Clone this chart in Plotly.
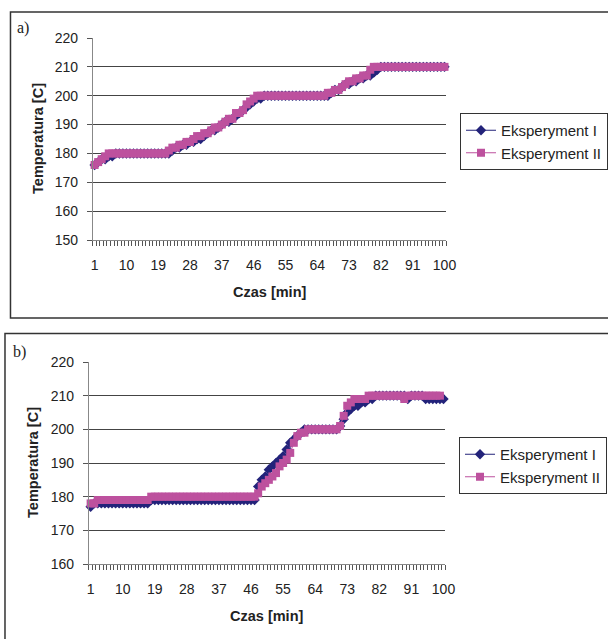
import plotly.graph_objects as go

W, H = 608, 639

minutes = list(range(1, 101))
x_tick_labels = [1, 10, 19, 28, 37, 46, 55, 64, 73, 82, 91, 100]

# Panel a)
a_exp1 = ([176, 177, 178, 178, 179, 179, 180, 180, 180, 180]
          + [180] * 12
          + [181, 182, 182, 183, 183, 184, 184, 185,
             185, 186, 187, 188, 188, 189, 190, 191, 191, 192,
             193, 194, 195, 196, 197, 198, 199, 199, 200, 200]
          + [200] * 17
          + [201, 202, 202, 203, 204, 204, 205, 205, 206, 206, 207, 207, 208, 209, 210]
          + [210] * 18)
a_exp2 = ([176, 177, 178, 179, 180]
          + [180] * 16
          + [181, 182, 182, 183, 183, 184, 184, 185, 186,
             186, 187, 187, 188, 189, 189, 190, 191, 192, 192,
             194, 194, 195, 197, 198, 199, 200]
          + [200] * 19
          + [201, 201, 202, 202, 203, 204, 205, 205, 206, 206, 207, 207, 209, 210]
          + [210] * 20)

# Panel b)
b_exp1 = ([177] + [178] * 16 + [179] * 30
          + [183, 185, 186, 188, 189, 190, 191, 192, 194, 196, 197, 198, 199]
          + [200] * 10
          + [201, 203, 205, 206, 207, 207, 208, 208, 209, 209]
          + [210] * 9 + [209] + [210] * 4 + [209] * 6)
b_exp2 = ([178, 178] + [179] * 15 + [180] * 30
          + [181, 183, 184, 185, 186, 187, 189, 190, 191, 193, 196, 198, 199, 199]
          + [200] * 9
          + [201, 204, 207, 208, 209, 209, 209, 209]
          + [210] * 10 + [209] + [210] * 10)

series_names = ["Eksperyment I", "Eksperyment II"]
BLUE = "#23237a"
PINK = "#bd519e"
FONT = "Liberation Sans, Arial, sans-serif"

fig = go.Figure()

def add_panel(y1, y2, xa, ya, legend):
    fig.add_trace(go.Scatter(
        x=minutes, y=y1, name=series_names[0], mode="lines+markers",
        line=dict(color=BLUE, width=1),
        marker=dict(symbol="diamond", size=8, color=BLUE),
        xaxis=xa, yaxis=ya, legend=legend, cliponaxis=False))
    fig.add_trace(go.Scatter(
        x=minutes, y=y2, name=series_names[1], mode="lines+markers",
        line=dict(color=PINK, width=1),
        marker=dict(symbol="square", size=8, color=PINK),
        xaxis=xa, yaxis=ya, legend=legend, cliponaxis=False))

add_panel(a_exp1, a_exp2, "x", "y", "legend")
add_panel(b_exp1, b_exp2, "x2", "y2", "legend2")

def px_x(p):
    return p / W

def px_y(p):
    return 1 - p / H

xcommon = dict(
    range=[0.5, 100.5], tickmode="array", tickvals=x_tick_labels,
    ticktext=[str(v) for v in x_tick_labels], ticks="",
    showgrid=False, zeroline=False, showline=True, linecolor="#888888", linewidth=1,
    tickfont=dict(family=FONT, size=14, color="#222222"),
    ticklabelstandoff=12, automargin=False,
    minor=dict(tickmode="linear", tick0=0.5, dtick=1, ticks="outside",
               ticklen=5, tickcolor="#555555", tickwidth=1, showgrid=False),
)
ycommon = dict(
    dtick=10, showgrid=True, gridcolor="#444444", gridwidth=1,
    zeroline=False, showline=True, linecolor="#888888", linewidth=1,
    ticks="outside", ticklen=5, tickcolor="#555555",
    tickfont=dict(family=FONT, size=14, color="#222222"),
    ticklabelstandoff=6, automargin=False,
)

legend_common = dict(
    xanchor="left", yanchor="top",
    bordercolor="#333333", borderwidth=1, bgcolor="white",
    font=dict(family=FONT, size=15, color="#222222"),
    tracegroupgap=0, itemwidth=30,
)

fig.update_layout(
    width=W, height=H,
    margin=dict(l=0, r=0, t=0, b=0, pad=0),
    paper_bgcolor="white", plot_bgcolor="white",
    showlegend=True,
    xaxis=dict(domain=[px_x(93), px_x(447)], anchor="y", **xcommon),
    yaxis=dict(domain=[px_y(240), px_y(38)], range=[150, 220], anchor="x", **ycommon),
    xaxis2=dict(domain=[px_x(89), px_x(446)], anchor="y2", **xcommon),
    yaxis2=dict(domain=[px_y(564), px_y(362)], range=[160, 220], anchor="x2", **ycommon),
    legend=dict(x=px_x(461), y=px_y(113), **legend_common),
    legend2=dict(x=px_x(459), y=px_y(437), **legend_common),
)

# panel frames
fig.add_shape(type="rect", xref="paper", yref="paper",
              x0=px_x(10.5), x1=px_x(620), y0=px_y(318), y1=px_y(12),
              line=dict(color="#333333", width=1.5))
fig.add_shape(type="rect", xref="paper", yref="paper",
              x0=px_x(5), x1=px_x(620), y0=px_y(650), y1=px_y(333.5),
              line=dict(color="#333333", width=1.5))

ann = [
    dict(text="a)", x=px_x(15), y=px_y(28), xanchor="left", yanchor="middle",
         font=dict(family="Liberation Serif, Times New Roman, serif", size=16, color="#222")),
    dict(text="b)", x=px_x(11), y=px_y(352), xanchor="left", yanchor="middle",
         font=dict(family="Liberation Serif, Times New Roman, serif", size=16, color="#222")),
    dict(text="<b>Temperatura [C]</b>", x=px_x(38), y=px_y(138), textangle=-90,
         xanchor="center", yanchor="middle", font=dict(family=FONT, size=14.5, color="#222")),
    dict(text="<b>Temperatura [C]</b>", x=px_x(33), y=px_y(462), textangle=-90,
         xanchor="center", yanchor="middle", font=dict(family=FONT, size=14.5, color="#222")),
    dict(text="<b>Czas [min]</b>", x=px_x(270), y=px_y(292),
         xanchor="center", yanchor="middle", font=dict(family=FONT, size=14.5, color="#222")),
    dict(text="<b>Czas [min]</b>", x=px_x(267), y=px_y(616),
         xanchor="center", yanchor="middle", font=dict(family=FONT, size=14.5, color="#222")),
]
for a in ann:
    fig.add_annotation(xref="paper", yref="paper", showarrow=False, **a)

fig.write_html(
    "out.html",
    config={"displayModeBar": False},
    post_script="document.body.style.margin='0';document.body.style.overflow='hidden';",
)
